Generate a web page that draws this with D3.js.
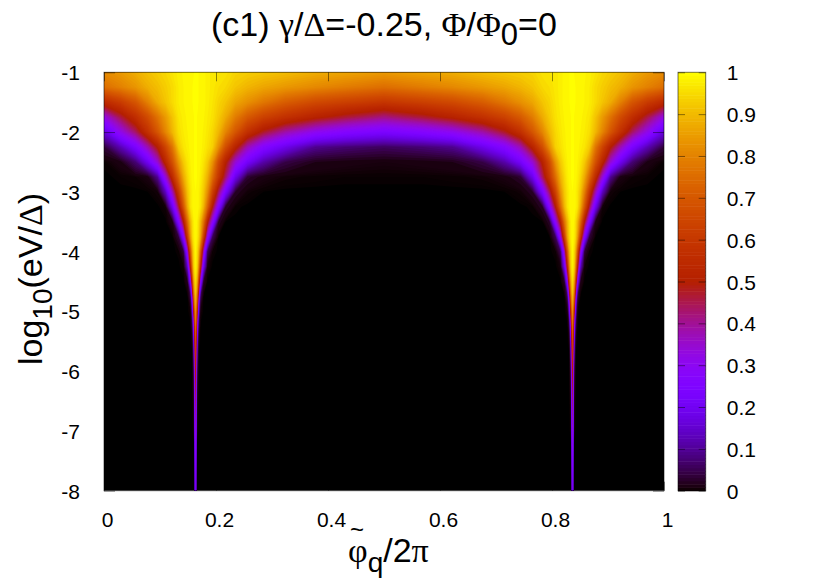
<!DOCTYPE html>
<html>
<head>
<meta charset="utf-8">
<script src="https://cdn.jsdelivr.net/npm/d3@7"></script>
<style>
  html, body { margin: 0; padding: 0; background: #fff; }
  svg { display: block; }
  text { font-family: "Liberation Sans", Arial, sans-serif; fill: #000; }
  .greek { font-family: "Liberation Serif", "DejaVu Serif", serif; }
</style>
</head>
<body>
<div id="chart"></div>
<script>
/// Values. Columns run from phi=0 to phi=0.5 and are packed
/// around the peak, the right half of the map is the mirror of the left one.
var phiColumns = [0, .0295, .0563, .0777, .0955, .1098, .1223, .133, .142, .1491, .1545, .158, .1607, .1634,
                  .1661, .1688, .1723, .1777, .1848, .1938, .2045, .217, .2348, .2563, .2848, .3241, .3777, .4313, .5]

var logRows = [-1, -1.25, -1.5, -1.75, -2, -2.25, -2.5, -2.75, -3, -3.25, -3.5, -3.75, -4, -4.25, -4.5,
               -4.75, -5, -5.25, -5.5, -5.75, -6, -6.25, -6.5, -6.75, -7, -7.25, -7.5, -7.75, -8]

var cellValues = [
  [.82,.85,.885,.915,.935,.95,.97,.985,.992,.996,.998,.999,1,1, 1,1,.998,.995,.985,.975,.97,.965,.945,.935,.925,.91,.885,.87,.85],
  [.76,.80,.84,.885,.91,.935,.955,.98,.99,.995,.998,1,1,1, 1,1,.998,.995,.985,.975,.96,.95,.92,.895,.87,.845,.815,.79,.76],
  [.55,.62,.70,.80,.88,.92,.955,.98,.99,.995,.998,1,1,1, 1,1,.998,.995,.985,.97,.945,.92,.87,.83,.78,.72,.665,.635,.60],
  [.33,.46,.57,.67,.77,.85,.92,.97,.985,.993,.997,.999,1,1, 1,.999,.997,.992,.98,.965,.93,.88,.79,.71,.64,.58,.52,.47,.42],
  [.17,.32,.44,.58,.70,.81,.90,.96,.98,.99,.996,.999,1,1, 1,.999,.996,.988,.975,.95,.90,.81,.70,.58,.48,.39,.31,.27,.24],
  [.04,.13,.24,.38,.51,.65,.78,.93,.97,.985,.995,.998,1,1, 1,.998,.995,.985,.965,.94,.83,.68,.53,.38,.27,.19,.10,.08,.065],
  [.002,.015,.08,.2,.35,.54,.69,.84,.93,.97,.99,.997,1,1, 1,.997,.99,.97,.93,.84,.67,.52,.35,.22,.12,.05,.02,.014,.01],
  [0,.002,.004,.012,.1,.34,.56,.74,.88,.95,.985,.995,1,1, 1,.995,.985,.95,.89,.76,.6,.44,.19,.035,.012,.005,.003,.002,.002],
  [0,0,0,.001,.006,.14,.38,.6,.8,.92,.97,.99,.998,1, .998,.99,.97,.93,.83,.64,.45,.24,.03,.005,.001,0,0,0,0],
  [0,0,0,0,0,.005,.2,.46,.7,.88,.97,.99,.997,1, .997,.99,.97,.9,.74,.5,.27,.03,.002,0,0,0,0,0,0],
  [0,0,0,0,0,0,.015,.25,.5,.75,.9,.96,.99,1, .99,.96,.9,.77,.52,.3,.03,.001,0,0,0,0,0,0,0],
  [0,0,0,0,0,0,.001,.04,.27,.6,.85,.95,.985,1, .985,.95,.87,.63,.31,.06,.001,0,0,0,0,0,0,0,0],
  [0,0,0,0,0,0,0,.002,.04,.32,.68,.88,.96,1, .96,.89,.7,.36,.06,.003,0,0,0,0,0,0,0,0,0],
  [0,0,0,0,0,0,0,0,.004,.14,.52,.8,.95,.99, .95,.81,.54,.2,.008,0,0,0,0,0,0,0,0,0,0],
  [0,0,0,0,0,0,0,0,0,.02,.25,.62,.88,.96, .88,.64,.28,.03,0,0,0,0,0,0,0,0,0,0,0],
  [0,0,0,0,0,0,0,0,0,0,.05,.35,.75,.92, .75,.37,.06,0,0,0,0,0,0,0,0,0,0,0,0],
  [0,0,0,0,0,0,0,0,0,0,.005,.15,.55,.85, .56,.16,.008,0,0,0,0,0,0,0,0,0,0,0,0],
  [0,0,0,0,0,0,0,0,0,0,0,.05,.35,.78, .36,.05,0,0,0,0,0,0,0,0,0,0,0,0,0],
  [0,0,0,0,0,0,0,0,0,0,0,.01,.22,.7, .22,.01,0,0,0,0,0,0,0,0,0,0,0,0,0],
  [0,0,0,0,0,0,0,0,0,0,0,0,.14,.62, .14,0,0,0,0,0,0,0,0,0,0,0,0,0,0],
  [0,0,0,0,0,0,0,0,0,0,0,0,.08,.55, .08,0,0,0,0,0,0,0,0,0,0,0,0,0,0],
  [0,0,0,0,0,0,0,0,0,0,0,0,.05,.5, .05,0,0,0,0,0,0,0,0,0,0,0,0,0,0],
  [0,0,0,0,0,0,0,0,0,0,0,0,.03,.46, .03,0,0,0,0,0,0,0,0,0,0,0,0,0,0],
  [0,0,0,0,0,0,0,0,0,0,0,0,.02,.42, .02,0,0,0,0,0,0,0,0,0,0,0,0,0,0],
  [0,0,0,0,0,0,0,0,0,0,0,0,.01,.38, .01,0,0,0,0,0,0,0,0,0,0,0,0,0,0],
  [0,0,0,0,0,0,0,0,0,0,0,0,0,.34, 0,0,0,0,0,0,0,0,0,0,0,0,0,0,0],
  [0,0,0,0,0,0,0,0,0,0,0,0,0,.3, 0,0,0,0,0,0,0,0,0,0,0,0,0,0,0],
  [0,0,0,0,0,0,0,0,0,0,0,0,0,.27, 0,0,0,0,0,0,0,0,0,0,0,0,0,0,0],
  [0,0,0,0,0,0,0,0,0,0,0,0,0,.25, 0,0,0,0,0,0,0,0,0,0,0,0,0,0,0]
]

var xTicks = [0, .2, .4, .6, .8, 1]
var yTicks = [-1, -2, -3, -4, -5, -6, -7, -8]
var cbTicks = [0, .1, .2, .3, .4, .5, .6, .7, .8, .9, 1]

var plot = {left: 104, right: 664, top: 72.3, bottom: 490.7}
var bar = {left: 678, right: 705.7}

var svg = d3.select("#chart").append("svg")
    .attr("width", 830)
    .attr("height", 581)

var x = d3.scaleLinear().domain([0, 1]).range([plot.left, plot.right])
var y = d3.scaleLinear().domain([-1, -8]).range([plot.top, plot.bottom])
var c = d3.scaleLinear().domain([0, 1]).range([plot.bottom, plot.top])

/// gnuplot's default pm3d palette (rgbformulae 7,5,15)
function palette(v) {
    var r = Math.sqrt(v), g = v * v * v, b = Math.max(0, Math.sin(2 * Math.PI * v))
    return d3.rgb(255 * r, 255 * g, 255 * b).formatHex()
}

/// Mirrors the half map on the full phi axis.
var phiAll = phiColumns.concat(phiColumns.slice(0, -1).reverse().map(p => 1 - p))
var grid = []
cellValues.forEach(function(row) {
    grid = grid.concat(row, row.slice(0, -1).reverse())
})

var nx = phiAll.length, ny = logRows.length
var colIndex = d3.scaleLinear().domain(d3.range(nx)).range(phiAll).clamp(true)
var rowIndex = d3.scaleLinear().domain(d3.range(ny)).range(logRows).clamp(true)

var path = d3.geoPath(d3.geoTransform({
    point: function(px, py) {
	this.stream.point(x(colIndex(px - .5)), y(rowIndex(py - .5)))
    }
}))

var levels = [.001, .002, .004, .006, .008].concat(d3.range(1, 101).map(i => i / 100))
var contours = d3.contours().size([nx, ny]).smooth(true).thresholds(levels)(grid)

var clip = svg.append("clipPath").attr("id", "map")
clip.append("rect")
    .attr("x", plot.left).attr("y", plot.top)
    .attr("width", plot.right - plot.left).attr("height", plot.bottom - plot.top)

var map = svg.append("g").attr("clip-path", "url(#map)")
map.append("rect")
    .attr("x", plot.left).attr("y", plot.top)
    .attr("width", plot.right - plot.left).attr("height", plot.bottom - plot.top)
    .attr("fill", palette(0))
map.selectAll("path")
    .data(contours)
    .enter()
    .append("path")
    .attr("d", path)
    .attr("fill", d => palette(d.value))

/// Colour box
var strips = d3.range(0, 128).map(i => i / 128)
svg.append("g").selectAll("rect")
    .data(strips)
    .enter()
    .append("rect")
    .attr("x", bar.left)
    .attr("width", bar.right - bar.left)
    .attr("y", d => c(d + 1 / 128))
    .attr("height", (plot.bottom - plot.top) / 128 + .5)
    .attr("fill", d => palette(d + 1 / 256))

/// Inward ticks, half transparent as in the original
function styleTicks(g) {
    g.select(".domain").remove()
    g.selectAll(".tick line").attr("stroke", "#000").attr("stroke-opacity", .45)
    g.selectAll("text").style("font-size", "21px").attr("fill", "#000")
}

svg.append("g")
    .attr("transform", "translate(0," + plot.bottom + ")")
    .call(d3.axisBottom(x).tickValues(xTicks).tickFormat(d => String(d)).tickSize(-9))
    .call(styleTicks)
    .call(g => g.selectAll("text").attr("dy", 0).attr("y", 36.5).attr("dx", 3))

svg.append("g")
    .attr("transform", "translate(0," + plot.top + ")")
    .call(d3.axisTop(x).tickValues(xTicks).tickFormat("").tickSize(-9))
    .call(styleTicks)

svg.append("g")
    .attr("transform", "translate(" + plot.left + ",0)")
    .call(d3.axisLeft(y).tickValues(yTicks).tickFormat(d => String(d)).tickSize(-11))
    .call(styleTicks)
    .call(g => g.selectAll("text").attr("x", -24).attr("dy", ".36em"))

svg.append("g")
    .attr("transform", "translate(" + plot.right + ",0)")
    .call(d3.axisRight(y).tickValues(yTicks).tickFormat("").tickSize(-11))
    .call(styleTicks)

svg.append("g")
    .attr("transform", "translate(" + bar.left + ",0)")
    .call(d3.axisLeft(c).tickValues(cbTicks).tickFormat("").tickSize(-7))
    .call(styleTicks)

svg.append("g")
    .attr("transform", "translate(" + bar.right + ",0)")
    .call(d3.axisRight(c).tickValues(cbTicks).tickFormat(d => String(d)).tickSize(-7))
    .call(styleTicks)
    .call(g => g.selectAll("text").attr("x", 21).attr("dy", ".36em"))

/// Frames
;[[plot.left, plot.right], [bar.left, bar.right]].forEach(function(e) {
    svg.append("rect")
	.attr("x", e[0]).attr("y", plot.top)
	.attr("width", e[1] - e[0]).attr("height", plot.bottom - plot.top)
	.attr("fill", "none")
	.attr("stroke", "#000")
	.attr("stroke-opacity", .55)
})

/// Title
var title = svg.append("text")
    .attr("x", 211).attr("y", 36)
    .style("font-size", "34px")
title.append("tspan").text("(c1) ")
title.append("tspan").attr("class", "greek").text("γ")
title.append("tspan").text("/")
title.append("tspan").attr("class", "greek").text("Δ")
title.append("tspan").text("=-0.25, ")
title.append("tspan").attr("class", "greek").text("Φ")
title.append("tspan").text("/")
title.append("tspan").attr("class", "greek").text("Φ")
title.append("tspan").attr("dy", 9).style("font-size", "31px").text("0")
title.append("tspan").attr("dy", -9).text("=0")

/// Y label
var ylab = svg.append("text")
    .attr("transform", "translate(42,365) rotate(-90)")
    .style("font-size", "34px")
ylab.append("tspan").text("log")
ylab.append("tspan").attr("dy", 10).style("font-size", "28px").text("10")
ylab.append("tspan").attr("dy", -10).text("(eV/")
ylab.append("tspan").attr("class", "greek").text("Δ")
ylab.append("tspan").text(")")

/// X label
var xlab = svg.append("text")
    .attr("x", 348).attr("y", 562)
    .style("font-size", "34px")
xlab.append("tspan").attr("class", "greek").text("φ")
xlab.append("tspan").attr("dy", 10).style("font-size", "28px").text("q")
xlab.append("tspan").attr("dy", -10).text("/2")
xlab.append("tspan").attr("class", "greek").text("π")

svg.append("text")
    .attr("x", 357).attr("y", 538)
    .attr("text-anchor", "middle")
    .style("font-size", "24px")
    .text("~")
</script>
</body>
</html>
